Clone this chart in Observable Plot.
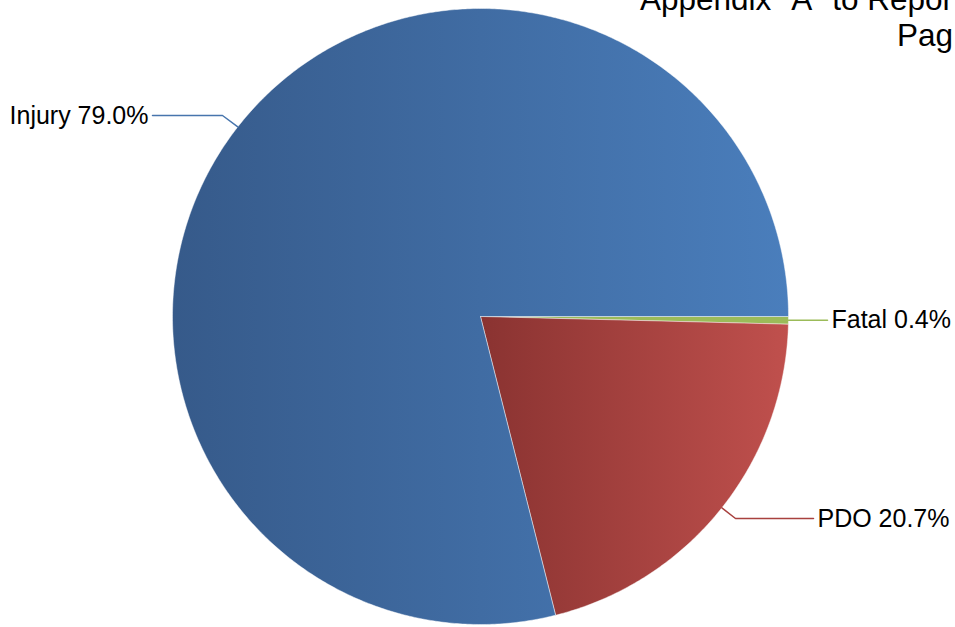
<!DOCTYPE html>
<html>
<head>
<meta charset="utf-8">
<script src="https://cdn.jsdelivr.net/npm/d3@7"></script>
<script src="https://cdn.jsdelivr.net/npm/@observablehq/plot@0.6"></script>
<style>
  html, body { margin: 0; padding: 0; background: #fff; overflow: hidden; }
  #wrap { position: relative; width: 955px; height: 627px; overflow: hidden; font-family: "Liberation Sans", Arial, sans-serif; }
  .hdr { position: absolute; right: 2px; font-size: 31.5px; line-height: 31.5px; white-space: nowrap; color: #000; text-align: right; }
  #chart { position: absolute; left: 0; top: 0; }
</style>
</head>
<body>
<div id="wrap">
  <div id="chart"></div>
  <div class="hdr" style="top:-16px;">Appendix "A" to Repor</div>
  <div class="hdr" style="top:20px;">Pag</div>
</div>
<script>
// ---- data ----
const categories = ["Fatal", "PDO", "Injury"];
const shares = [0.4, 20.7, 79.0];
const labels = ["Fatal 0.4%", "PDO 20.7%", "Injury 79.0%"];

// ---- styling / layout (not data) ----
const sliceColors = {
  Fatal: ["#9bbb59", "#9bbb59"],
  PDO: ["#8a3331", "#c0504d"],
  Injury: ["#365a8a", "#4a7ebc"]
};
const leaderColors = {Fatal: "#9bbb59", PDO: "#a8413f", Injury: "#4775ad"};
const R = 308;
// label layout: edge angle (deg, clockwise from 12 o'clock), elbow & end offsets in px
const labelLayout = {
  Injury: {edgeDeg: 308, elbow: [-258, 201], end: [-328, 201], anchor: "end"},
  Fatal:  {edgeDeg: 90.7, elbow: null, end: [347, -3], anchor: "start"},
  PDO:    {edgeDeg: 128.4, elbow: [255, -202], end: [333, -202], anchor: "start"}
};

// ---- build slices ----
const pieData = categories.map((c, i) => ({cat: c, value: shares[i], label: labels[i]}));
const arcs = d3.pie().sort(null).value(d => d.value).startAngle(Math.PI / 2).endAngle(Math.PI / 2 + 2 * Math.PI)(pieData);

function polygon(a) {
  const pts = [{x: 0, y: 0}];
  const n = Math.max(2, Math.ceil((a.endAngle - a.startAngle) / (Math.PI / 360)));
  for (let k = 0; k <= n; k++) {
    const t = a.startAngle + (a.endAngle - a.startAngle) * k / n;
    pts.push({x: R * Math.sin(t), y: R * Math.cos(t)});
  }
  pts.push({x: 0, y: 0});
  return pts;
}

const defsMark = () => {
  const defs = d3.create("svg:defs");
  for (const c of categories) {
    const g = defs.append("linearGradient").attr("id", "grad-" + c)
      .attr("x1", 0).attr("x2", 1).attr("y1", 0).attr("y2", 0);
    g.append("stop").attr("offset", 0).attr("stop-color", sliceColors[c][0]);
    g.append("stop").attr("offset", 1).attr("stop-color", sliceColors[c][1]);
  }
  return defs.node();
};

const sliceMarks = arcs.map(a => Plot.line(polygon(a), {
  x: "x", y: "y", fill: `url(#grad-${a.data.cat})`,
  stroke: "rgba(255,255,255,0.45)", strokeWidth: 1, strokeLinejoin: "round"
}));

// leader lines
const leaderMarks = [];
const textData = [];
for (const a of arcs) {
  const c = a.data.cat, L = labelLayout[c];
  const t = L.edgeDeg * Math.PI / 180;
  const pts = [{x: R * Math.sin(t), y: R * Math.cos(t)}];
  if (L.elbow) pts.push({x: L.elbow[0], y: L.elbow[1]});
  else pts.push({x: L.end[0] - 0.1, y: R * Math.cos(t)});
  pts.push({x: L.end[0], y: L.elbow ? L.end[1] : R * Math.cos(t)});
  leaderMarks.push(Plot.line(pts, {x: "x", y: "y", stroke: leaderColors[c], strokeWidth: 1.5}));
  textData.push({x: L.end[0] + (L.anchor === "end" ? -4 : 4), y: L.elbow ? L.end[1] : R * Math.cos(t), label: a.data.label, anchor: L.anchor});
}

const chart = Plot.plot({
  width: 955,
  height: 627,
  margin: 0,
  style: {background: "transparent", fontFamily: "'Liberation Sans', Arial, sans-serif"},
  x: {domain: [-480, 475], axis: null},
  y: {domain: [-311, 316], axis: null},
  marks: [
    defsMark,
    ...sliceMarks,
    ...leaderMarks,
    Plot.text(textData.filter(d => d.anchor === "end"), {x: "x", y: "y", text: "label", textAnchor: "end", fontSize: 25, fill: "#000"}),
    Plot.text(textData.filter(d => d.anchor === "start"), {x: "x", y: "y", text: "label", textAnchor: "start", fontSize: 25, fill: "#000"})
  ]
});
document.getElementById("chart").appendChild(chart);
</script>
</body>
</html>
